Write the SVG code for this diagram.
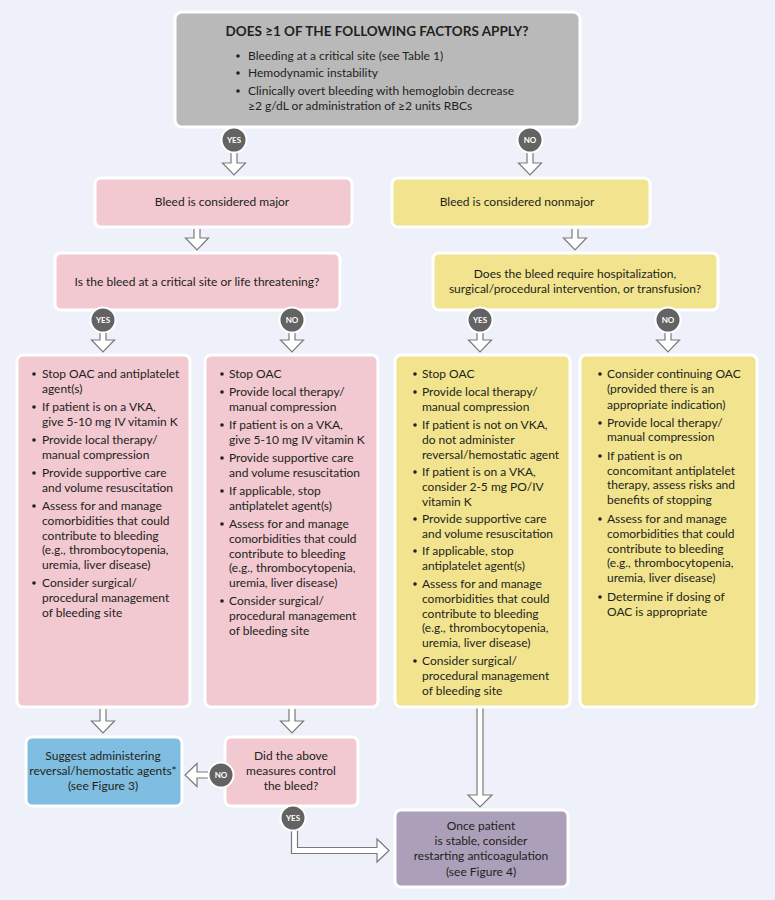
<svg xmlns="http://www.w3.org/2000/svg" width="775" height="900" viewBox="0 0 775 900">
<style>
.bg{fill:#eef1f9}
.box{stroke:#ffffff;stroke-width:3}
.gray{fill:#b9b9b9}
.pink{fill:#f2c8d1}
.yellow{fill:#f2e48e}
.blue{fill:#7fbee1}
.purple{fill:#ab9fb9}
text{font-family:Lato,"Open Sans","Liberation Sans",sans-serif;font-size:12px;fill:#231f20}
.c{text-anchor:middle}
.title{font-weight:bold;font-size:13.5px}
.dot{fill:#231f20}
.arrow{fill:#ffffff;stroke:#7a7a7a;stroke-width:1.2;stroke-linejoin:miter}
.badge circle{fill:#636363;stroke:#ffffff;stroke-width:2}
.badge text{font-size:8px;font-weight:bold;fill:#ffffff;text-anchor:middle}
</style>
<rect class="bg" x="0" y="0" width="775" height="900"/>

<g id="connectors">
  <polyline class="arrow" points="231,150 231,163 222.5,163 234,175 245.5,163 237,163 237,150"/>
  <polyline class="arrow" points="527,150 527,163 518.5,163 530,175 541.5,163 533,163 533,150"/>
  <polyline class="arrow" points="194,229 194,238 185.5,238 197,250 208.5,238 200,238 200,229"/>
  <polyline class="arrow" points="572,229 572,238 563.5,238 575,250 586.5,238 578,238 578,229"/>
  <polyline class="arrow" points="100,331 100,340 91.5,340 103,352 114.5,340 106,340 106,331"/>
  <polyline class="arrow" points="289,331 289,340 280.5,340 292,352 303.5,340 295,340 295,331"/>
  <polyline class="arrow" points="477,331 477,340 468.5,340 480,352 491.5,340 483,340 483,331"/>
  <polyline class="arrow" points="665,331 665,340 656.5,340 668,352 679.5,340 671,340 671,331"/>
  <polyline class="arrow" points="100,709 100,721 91.5,721 103,733 114.5,721 106,721 106,709"/>
  <polyline class="arrow" points="289,709 289,721 280.5,721 292,733 303.5,721 295,721 295,709"/>
  <polyline class="arrow" points="477,708 477,795 468,795 480,807 492,795 483,795 483,708"/>
  <polyline class="arrow" points="209,772 197,772 197,763.5 185,775 197,786.5 197,778 209,778"/>
  <polyline class="arrow" points="291.5,828 291.5,853.5 377,853.5 377,862 389,850.5 377,839 377,847.5 297.5,847.5 297.5,828"/>
</g>

<g id="start">
  <rect class="box gray" x="175" y="12" width="405" height="115" rx="7"/>
  <text class="c title" x="377" y="36">DOES ≥1 OF THE FOLLOWING FACTORS APPLY?</text>
  <circle class="dot" cx="238" cy="56" r="1.8"/>
  <circle class="dot" cx="238" cy="73" r="1.8"/>
  <circle class="dot" cx="238" cy="91" r="1.8"/>
  <text x="248" y="60">Bleeding at a critical site (see Table 1)</text>
  <text x="248" y="77">Hemodynamic instability</text>
  <text x="248" y="95">Clinically overt bleeding with hemoglobin decrease</text>
  <text x="248" y="110">≥2 g/dL or administration of ≥2 units RBCs</text>
</g>

<g id="major">
  <rect class="box pink" x="95" y="178" width="257" height="49" rx="6"/>
  <text class="c" x="222" y="206">Bleed is considered major</text>
</g>

<g id="nonmajor">
  <rect class="box yellow" x="392" y="178" width="258" height="49" rx="6"/>
  <text class="c" x="517" y="206">Bleed is considered nonmajor</text>
</g>

<g id="q-critical">
  <rect class="box pink" x="55" y="253" width="285" height="57" rx="6"/>
  <text class="c" x="197" y="286">Is the bleed at a critical site or life threatening?</text>
</g>

<g id="q-hospital">
  <rect class="box yellow" x="433" y="253" width="285" height="57" rx="6"/>
  <text class="c" x="575" y="278">Does the bleed require hospitalization,</text>
  <text class="c" x="575" y="293">surgical/procedural intervention, or transfusion?</text>
</g>

<g id="major-critical">
  <rect class="box pink" x="17" y="355" width="173" height="352" rx="6"/>
  <circle class="dot" cx="34" cy="374" r="1.8"/>
  <circle class="dot" cx="34" cy="407" r="1.8"/>
  <circle class="dot" cx="34" cy="440" r="1.8"/>
  <circle class="dot" cx="34" cy="473" r="1.8"/>
  <circle class="dot" cx="34" cy="506" r="1.8"/>
  <circle class="dot" cx="34" cy="583" r="1.8"/>
  <text x="42" y="378">Stop OAC and antiplatelet</text>
  <text x="42" y="393">agent(s)</text>
  <text x="42" y="411">If patient is on a VKA,</text>
  <text x="42" y="426">give 5-10 mg IV vitamin K</text>
  <text x="42" y="444">Provide local therapy/</text>
  <text x="42" y="459">manual compression</text>
  <text x="42" y="477">Provide supportive care</text>
  <text x="42" y="492">and volume resuscitation</text>
  <text x="42" y="510">Assess for and manage</text>
  <text x="42" y="525">comorbidities that could</text>
  <text x="42" y="540">contribute to bleeding</text>
  <text x="42" y="554">(e.g., thrombocytopenia,</text>
  <text x="42" y="569">uremia, liver disease)</text>
  <text x="42" y="587">Consider surgical/</text>
  <text x="42" y="602">procedural management</text>
  <text x="42" y="617">of bleeding site</text>
</g>

<g id="major-noncritical">
  <rect class="box pink" x="205" y="355" width="173" height="352" rx="6"/>
  <circle class="dot" cx="222" cy="374" r="1.8"/>
  <circle class="dot" cx="222" cy="392" r="1.8"/>
  <circle class="dot" cx="222" cy="425" r="1.8"/>
  <circle class="dot" cx="222" cy="458" r="1.8"/>
  <circle class="dot" cx="222" cy="491" r="1.8"/>
  <circle class="dot" cx="222" cy="524" r="1.8"/>
  <circle class="dot" cx="222" cy="601" r="1.8"/>
  <text x="229" y="378">Stop OAC</text>
  <text x="229" y="396">Provide local therapy/</text>
  <text x="229" y="411">manual compression</text>
  <text x="229" y="429">If patient is on a VKA,</text>
  <text x="229" y="444">give 5-10 mg IV vitamin K</text>
  <text x="229" y="462">Provide supportive care</text>
  <text x="229" y="477">and volume resuscitation</text>
  <text x="229" y="495">If applicable, stop</text>
  <text x="229" y="510">antiplatelet agent(s)</text>
  <text x="229" y="528">Assess for and manage</text>
  <text x="229" y="543">comorbidities that could</text>
  <text x="229" y="558">contribute to bleeding</text>
  <text x="229" y="572">(e.g., thrombocytopenia,</text>
  <text x="229" y="587">uremia, liver disease)</text>
  <text x="229" y="605">Consider surgical/</text>
  <text x="229" y="620">procedural management</text>
  <text x="229" y="635">of bleeding site</text>
</g>

<g id="nonmajor-hospital">
  <rect class="box yellow" x="395" y="355" width="175" height="352" rx="6"/>
  <circle class="dot" cx="415" cy="374" r="1.8"/>
  <circle class="dot" cx="415" cy="392" r="1.8"/>
  <circle class="dot" cx="415" cy="425" r="1.8"/>
  <circle class="dot" cx="415" cy="472" r="1.8"/>
  <circle class="dot" cx="415" cy="519" r="1.8"/>
  <circle class="dot" cx="415" cy="551" r="1.8"/>
  <circle class="dot" cx="415" cy="584" r="1.8"/>
  <circle class="dot" cx="415" cy="661" r="1.8"/>
  <text x="422" y="378">Stop OAC</text>
  <text x="422" y="396">Provide local therapy/</text>
  <text x="422" y="411">manual compression</text>
  <text x="422" y="429">If patient is not on VKA,</text>
  <text x="422" y="444">do not administer</text>
  <text x="422" y="459">reversal/hemostatic agent</text>
  <text x="422" y="476">If patient is on a VKA,</text>
  <text x="422" y="491">consider 2-5 mg PO/IV</text>
  <text x="422" y="506">vitamin K</text>
  <text x="422" y="523">Provide supportive care</text>
  <text x="422" y="538">and volume resuscitation</text>
  <text x="422" y="555">If applicable, stop</text>
  <text x="422" y="570">antiplatelet agent(s)</text>
  <text x="422" y="588">Assess for and manage</text>
  <text x="422" y="603">comorbidities that could</text>
  <text x="422" y="618">contribute to bleeding</text>
  <text x="422" y="632">(e.g., thrombocytopenia,</text>
  <text x="422" y="647">uremia, liver disease)</text>
  <text x="422" y="665">Consider surgical/</text>
  <text x="422" y="680">procedural management</text>
  <text x="422" y="695">of bleeding site</text>
</g>

<g id="nonmajor-outpatient">
  <rect class="box yellow" x="580" y="355" width="177" height="352" rx="6"/>
  <circle class="dot" cx="600" cy="374" r="1.8"/>
  <circle class="dot" cx="600" cy="423" r="1.8"/>
  <circle class="dot" cx="600" cy="456" r="1.8"/>
  <circle class="dot" cx="600" cy="519" r="1.8"/>
  <circle class="dot" cx="600" cy="597" r="1.8"/>
  <text x="607" y="378">Consider continuing OAC</text>
  <text x="607" y="393">(provided there is an</text>
  <text x="607" y="409">appropriate indication)</text>
  <text x="607" y="427">Provide local therapy/</text>
  <text x="607" y="441">manual compression</text>
  <text x="607" y="460">If patient is on</text>
  <text x="607" y="475">concomitant antiplatelet</text>
  <text x="607" y="489">therapy, assess risks and</text>
  <text x="607" y="504">benefits of stopping</text>
  <text x="607" y="523">Assess for and manage</text>
  <text x="607" y="538">comorbidities that could</text>
  <text x="607" y="553">contribute to bleeding</text>
  <text x="607" y="567">(e.g., thrombocytopenia,</text>
  <text x="607" y="582">uremia, liver disease)</text>
  <text x="607" y="601">Determine if dosing of</text>
  <text x="607" y="616">OAC is appropriate</text>
</g>

<g id="reversal">
  <rect class="box blue" x="26" y="737" width="156" height="69" rx="6"/>
  <text class="c" x="103" y="760">Suggest administering</text>
  <text class="c" x="103" y="775">reversal/hemostatic agents*</text>
  <text class="c" x="103" y="790">(see Figure 3)</text>
</g>

<g id="controlled">
  <rect class="box pink" x="225" y="737" width="133" height="69" rx="6"/>
  <text class="c" x="291" y="760">Did the above</text>
  <text class="c" x="291" y="775">measures control</text>
  <text class="c" x="291" y="790">the bleed?</text>
</g>

<g id="restart">
  <rect class="box purple" x="395" y="810" width="173" height="77" rx="6"/>
  <text class="c" x="481" y="830">Once patient</text>
  <text class="c" x="481" y="845">is stable, consider</text>
  <text class="c" x="481" y="860">restarting anticoagulation</text>
  <text class="c" x="481" y="876">(see Figure 4)</text>
</g>

<g id="badges">
  <g class="badge"><circle cx="234" cy="140" r="12.5"/><text x="234" y="143">YES</text></g>
  <g class="badge"><circle cx="530" cy="140" r="12.5"/><text x="530" y="143">NO</text></g>
  <g class="badge"><circle cx="103" cy="320" r="12.5"/><text x="103" y="323">YES</text></g>
  <g class="badge"><circle cx="292" cy="320" r="12.5"/><text x="292" y="323">NO</text></g>
  <g class="badge"><circle cx="480" cy="320" r="12.5"/><text x="480" y="323">YES</text></g>
  <g class="badge"><circle cx="668" cy="320" r="12.5"/><text x="668" y="323">NO</text></g>
  <g class="badge"><circle cx="221" cy="775" r="12.5"/><text x="221" y="778">NO</text></g>
  <g class="badge"><circle cx="293" cy="818" r="12.5"/><text x="293" y="821">YES</text></g>
</g>
</svg>
